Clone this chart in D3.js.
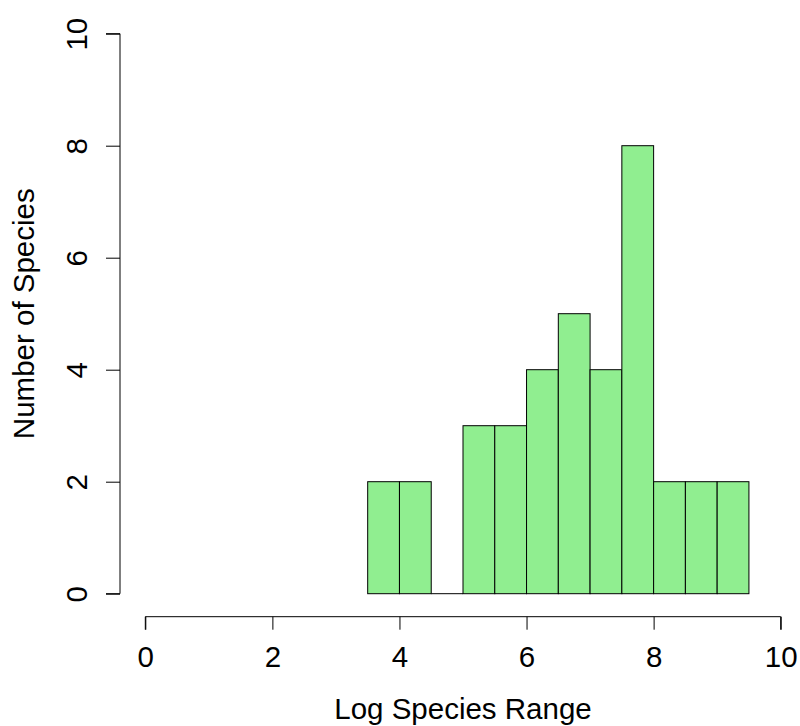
<!DOCTYPE html>
<html><head><meta charset="utf-8">
<script src="https://cdn.jsdelivr.net/npm/d3@7"></script>
<style>body{margin:0;background:#fff;} text{font-family:"Liberation Sans",Arial,sans-serif;}</style>
</head><body>
<svg id="c" width="800" height="726"></svg>
<script>
const binStarts = [3.5,4,4.5,5,5.5,6,6.5,7,7.5,8,8.5,9];
const binWidth = 0.5;
const counts = [2,2,0,3,3,4,5,4,8,2,2,2];
const xTicks = [0,2,4,6,8,10];
const yTicks = [0,2,4,6,8,10];
const xLabel = "Log Species Range";
const yLabel = "Number of Species";
const FS = 29.5;

const svg = d3.select("#c");
const x = d3.scaleLinear().domain([0,10]).range([145.3,780.7]);
const y = d3.scaleLinear().domain([0,10]).range([593.7,33.7]);

const bins = binStarts.map((s,i)=>({s, c:counts[i]}));
svg.selectAll("rect.bar").data(bins.filter(b=>b.c>0)).enter().append("rect")
  .attr("class","bar")
  .attr("x", d=>x(d.s))
  .attr("width", d=>x(d.s+binWidth)-x(d.s))
  .attr("y", d=>y(d.c))
  .attr("height", d=>y(0)-y(d.c))
  .attr("fill","#90EE90").attr("stroke","#000").attr("stroke-width",1);
svg.selectAll("line.zero").data(bins.filter(b=>b.c===0)).enter().append("line")
  .attr("class","zero")
  .attr("x1", d=>x(d.s)).attr("x2", d=>x(d.s+binWidth))
  .attr("y1", y(0)).attr("y2", y(0))
  .attr("stroke","#000").attr("stroke-width",1);

const xa = svg.append("g").attr("transform","translate(0,616.7)")
  .call(d3.axisBottom(x).tickValues(xTicks).tickSize(13).tickPadding(10).tickFormat(d3.format("d")));
const ya = svg.append("g").attr("transform","translate(120,0)")
  .call(d3.axisLeft(y).tickValues(yTicks).tickSize(14).tickPadding(10).tickFormat(d3.format("d")));
[xa,ya].forEach(a=>{
  a.attr("font-size",FS).attr("font-family","Liberation Sans, Arial, sans-serif");
  a.select(".domain").attr("stroke","#000").attr("stroke-width",1);
  a.selectAll(".tick line").attr("stroke","#000");
  a.selectAll("text").attr("font-size",FS).attr("fill","#000");
});
xa.selectAll(".tick text").attr("y",50.5).attr("dy","0");
xa.select(".domain").attr("d", `M${x(0)},13V0H${x(10)}V13`);
ya.select(".domain").attr("d", `M-14,${y(10)}H0V${y(0)}H-14`);
ya.selectAll(".tick text").attr("transform","rotate(-90)").attr("text-anchor","middle").attr("x",0).attr("y",-33).attr("dy","0");

svg.append("text").attr("x",(x(0)+x(10))/2).attr("y",719).attr("text-anchor","middle")
  .attr("font-size",FS).text(xLabel);
svg.append("text").attr("transform",`translate(33.5,${(y(0)+y(10))/2}) rotate(-90)`).attr("text-anchor","middle")
  .attr("font-size",FS).text(yLabel);
</script>
</body></html>
